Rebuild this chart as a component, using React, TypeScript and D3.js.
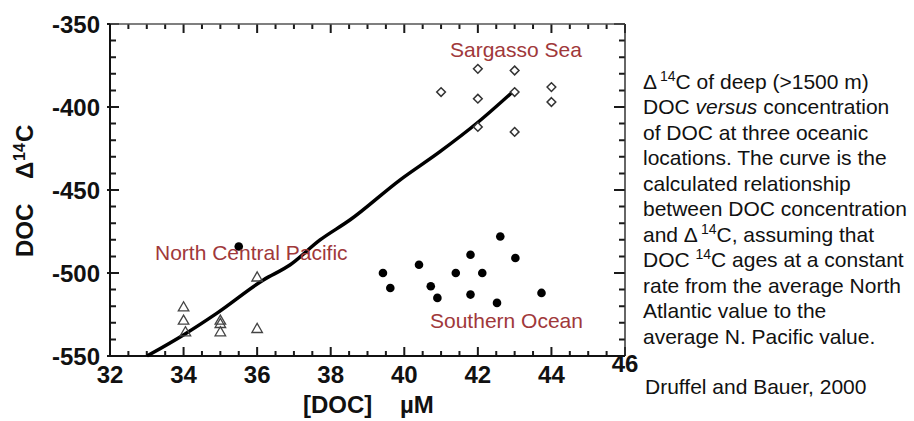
import React from "react";
import * as d3 from "d3";

// ---------- data ----------
const xTickValues = [32, 34, 36, 38, 40, 42, 44, 46];
const yTickValues = [-350, -400, -450, -500, -550];

// Sargasso Sea (open diamonds): [DOC µM, Δ14C ‰]
const sargassoDOC = [41.0, 42.0, 42.0, 42.0, 43.0, 43.0, 43.0, 44.0, 44.0];
const sargassoD14C = [-391, -377, -395, -412, -378, -391, -415, -388, -397];

// North Central Pacific (open triangles)
const ncpDOC = [34.0, 34.0, 34.05, 35.0, 35.0, 35.0, 36.0, 36.0];
const ncpD14C = [-521, -529, -536, -529, -531, -536, -503, -534];

// North Central Pacific single filled point
const ncpFilledDOC = [35.5];
const ncpFilledD14C = [-484];

// Southern Ocean (filled circles)
const soDOC = [39.42, 39.62, 40.4, 40.72, 40.9, 41.4, 41.8, 41.8, 42.12, 42.52, 42.61, 43.02, 43.73];
const soD14C = [-500, -509, -495, -508, -515, -500, -489, -513, -500, -518, -478, -491, -512];

// Calculated curve
const curveDOC = [33.04, 34.04, 34.9, 36.17, 36.89, 37.71, 38.52, 39.88, 40.97, 41.97, 42.92];
const curveD14C = [-549.6, -536.7, -524.3, -504.2, -495.2, -480.1, -468.1, -444.0, -426.9, -409.8, -391.4];

const captionLines: { t: string; sup?: boolean; it?: boolean }[][] = [
  [{ t: "Δ" }, { t: "14", sup: true }, { t: "C of deep (>1500 m)" }],
  [{ t: "DOC " }, { t: "versus", it: true }, { t: " concentration" }],
  [{ t: "of DOC at three oceanic" }],
  [{ t: "locations. The curve is the" }],
  [{ t: "calculated relationship" }],
  [{ t: "between DOC concentration" }],
  [{ t: "and  Δ" }, { t: "14", sup: true }, { t: "C, assuming that" }],
  [{ t: "DOC " }, { t: "14", sup: true }, { t: "C ages at a constant" }],
  [{ t: "rate from the average North" }],
  [{ t: "Atlantic value to the" }],
  [{ t: "average N. Pacific value." }],
];
const citation = "Druffel and Bauer, 2000";

// ---------- layout ----------
const W = 914;
const H = 421;
const plot = { left: 110, right: 625, top: 24, bottom: 356 };
const FONT = "'Liberation Sans', Arial, Helvetica, sans-serif";
const RED = "#A0383A";

export default function App() {
  const x = d3.scaleLinear().domain([32, 46]).range([plot.left, plot.right]);
  const y = d3.scaleLinear().domain([-550, -350]).range([plot.bottom, plot.top]);

  const xMinor = d3.range(0, 29).map((i) => 32 + i * 0.5);
  const yMinor = d3.range(0, 21).map((i) => -550 + i * 10);

  const line = d3
    .line<number>()
    .x((_, i) => x(curveDOC[i]))
    .y((_, i) => y(curveD14C[i]))
    .curve(d3.curveMonotoneX);

  const diamond = d3.symbol().type(d3.symbolDiamond2).size(48)() as string;
  const triangle = d3.symbol().type(d3.symbolTriangle).size(48)() as string;

  const isMajorX = (i: number) => i % 4 === 0;
  const isMajorY = (i: number) => i % 5 === 0;

  let tickD = "";
  xMinor.forEach((v, i) => {
    const len = isMajorX(i) ? 9 : 5;
    const px = x(v);
    tickD += `M${px},${plot.bottom}V${plot.bottom - len}M${px},${plot.top}V${plot.top + len}`;
  });
  yMinor.forEach((v, i) => {
    const major = isMajorY(i);
    const py = y(v);
    tickD += `M${plot.left - (major ? 3 : 0)},${py}H${plot.left + (major ? 9 : 6)}`;
    tickD += `M${plot.right},${py}H${plot.right - (major ? 11 : 6)}`;
  });

  return (
    <svg
      width={W}
      height={H}
      style={{ position: "absolute", left: 0, top: 0, background: "#fff" }}
      fontFamily={FONT}
    >
      <rect x={0} y={0} width={W} height={H} fill="#fff" />

      {/* ticks */}
      <path d={tickD} fill="none" stroke="#1a1a1a" strokeWidth={2} />

      {/* frame */}
      <line x1={plot.left} x2={plot.right} y1={plot.top} y2={plot.top} stroke="#555" strokeWidth={1.5} />
      <line x1={plot.right} x2={plot.right} y1={plot.top} y2={plot.bottom} stroke="#333" strokeWidth={1.5} />
      <line x1={plot.left} x2={plot.left} y1={plot.top} y2={plot.bottom} stroke="#111" strokeWidth={2} />
      <line x1={plot.left} x2={plot.right} y1={plot.bottom} y2={plot.bottom} stroke="#111" strokeWidth={2} />

      {/* tick labels */}
      {yTickValues.map((v) => (
        <text key={"yl" + v} x={100} y={y(v) + 8.5} textAnchor="end" fontSize={24} fontWeight="bold" fill="#111">
          {v}
        </text>
      ))}
      {xTickValues.map((v) => (
        <text
          key={"xl" + v}
          x={x(v)}
          y={v === 46 ? 372 : 383}
          textAnchor="middle"
          fontSize={24}
          fontWeight="bold"
          fill="#111"
        >
          {v}
        </text>
      ))}

      {/* axis titles */}
      <text x={303} y={413} fontSize={24} fontWeight="bold" fill="#111">[DOC]</text>
      <text x={400} y={413} fontSize={24} fontWeight="bold" fill="#111">µM</text>
      <text transform="translate(33,257) rotate(-90)" fontSize={24} fontWeight="bold" fill="#111">
        <tspan x={0}>DOC</tspan>
        <tspan x={78}>Δ</tspan>
        <tspan x={96} dy={-8} fontSize={16}>14</tspan>
        <tspan x={115} dy={8}>C</tspan>
      </text>

      {/* curve */}
      <path d={line(curveDOC) || ""} fill="none" stroke="#000" strokeWidth={3.5} strokeLinecap="round" />

      {/* Sargasso Sea diamonds */}
      {sargassoDOC.map((v, i) => (
        <path
          key={"ss" + i}
          d={diamond}
          transform={`translate(${x(v)},${y(sargassoD14C[i])})`}
          fill="#fff"
          stroke="#333"
          strokeWidth={1.5}
        />
      ))}

      {/* North Central Pacific triangles */}
      {ncpDOC.map((v, i) => (
        <path
          key={"np" + i}
          d={triangle}
          transform={`translate(${x(v)},${y(ncpD14C[i])})`}
          fill="none"
          stroke="#444"
          strokeWidth={1.3}
        />
      ))}
      {ncpFilledDOC.map((v, i) => (
        <circle key={"nf" + i} cx={x(v)} cy={y(ncpFilledD14C[i])} r={4.3} fill="#000" />
      ))}

      {/* Southern Ocean circles */}
      {soDOC.map((v, i) => (
        <circle key={"so" + i} cx={x(v)} cy={y(soD14C[i])} r={4.3} fill="#000" />
      ))}

      {/* region labels */}
      <text x={450} y={57} fontSize={21} fill={RED}>Sargasso Sea</text>
      <text x={155} y={260} fontSize={21} fill={RED}>North Central Pacific</text>
      <text x={430} y={328} fontSize={21} fill={RED}>Southern Ocean</text>

      {/* caption */}
      {captionLines.map((segs, li) => (
        <text key={"cap" + li} x={643} y={88.5 + li * 25.5} fontSize={21} fill="#111">
          {segs.map((s, si) => (
            <tspan
              key={si}
              fontSize={s.sup ? 14 : undefined}
              fontStyle={s.it ? "italic" : undefined}
              dy={s.sup ? -8 : si > 0 && segs[si - 1].sup ? 8 : 0}
              dx={s.sup && si > 0 && segs[si - 1].t.endsWith("Δ") ? 3 : 0}
            >
              {s.t}
            </tspan>
          ))}
        </text>
      ))}
      <text x={645} y={394} fontSize={21} fill="#111">{citation}</text>
    </svg>
  );
}
